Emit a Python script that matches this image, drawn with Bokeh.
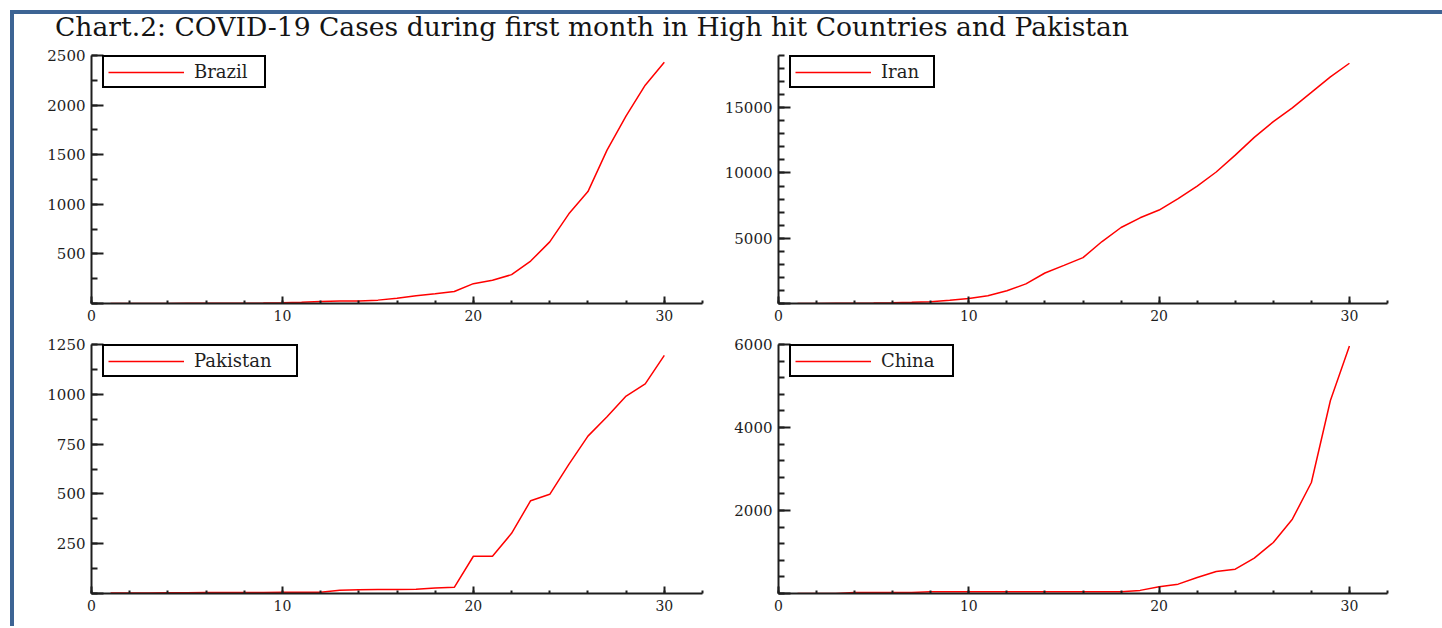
from bokeh.plotting import figure
from bokeh.layouts import column, row
from bokeh.models import Div, Spacer, Range1d, SingleIntervalTicker
from bokeh.embed import file_html
from bokeh.resources import INLINE

# ---------------- data ----------------
days = list(range(1, 31))

brazil = [1, 1, 1, 1, 2, 2, 2, 2, 4, 8, 13, 19, 25, 25, 34, 52, 77, 98, 121, 200,
          234, 291, 428, 621, 904, 1128, 1546, 1891, 2201, 2433]
iran = [2, 5, 18, 28, 43, 61, 95, 139, 245, 388, 593, 978, 1501, 2336, 2922, 3513,
        4747, 5823, 6566, 7161, 8042, 9000, 10075, 11364, 12729, 13938, 14991,
        16169, 17361, 18407]
pakistan = [2, 2, 2, 4, 4, 5, 5, 5, 5, 6, 6, 6, 16, 19, 20, 20, 21, 28, 31, 187,
            187, 302, 466, 498, 648, 790, 887, 991, 1052, 1195]
china = [0, 0, 0, 27, 27, 27, 27, 44, 44, 44, 44, 41, 41, 41, 41, 41, 41, 45, 75,
         160, 225, 385, 530, 586, 851, 1229, 1790, 2674, 4650, 5966]

title_text = "Chart.2: COVID-19 Cases during first month in High hit Countries and Pakistan"
x_max = 32

BLUE = "#3D6494"
RED = "#FF0000"
INK = "#1E1E1E"
SERIF = "DejaVu Serif"


def panel(name, values, y_max, y_step, y_minor, w, h, bl, br, bt, bb, label_w):
    p = figure(width=w, height=h, x_range=Range1d(0, x_max), y_range=Range1d(0, y_max),
               output_backend="svg", toolbar_location=None,
               min_border_left=bl, min_border_right=br,
               min_border_top=bt, min_border_bottom=bb, margin=0)
    p.line(days, values, line_color=RED, line_width=1.5, legend_label=name)
    p.xgrid.visible = False
    p.ygrid.visible = False
    p.outline_line_color = None
    p.background_fill_color = "white"
    p.border_fill_color = "white"

    p.xaxis.ticker = SingleIntervalTicker(interval=10, num_minor_ticks=5)
    p.yaxis.ticker = SingleIntervalTicker(interval=y_step, num_minor_ticks=y_minor)
    p.yaxis.major_label_overrides = {0: ""}

    for ax in (p.xaxis[0], p.yaxis[0]):
        ax.axis_line_color = INK
        ax.axis_line_width = 2
        ax.major_tick_line_color = INK
        ax.minor_tick_line_color = INK
        ax.major_tick_line_width = 2
        ax.minor_tick_line_width = 2
        ax.major_tick_out = 0
        ax.minor_tick_out = 0
        ax.major_label_text_font = SERIF
        ax.major_label_text_color = INK
    p.yaxis.major_tick_in = 12
    p.yaxis.minor_tick_in = 6
    p.xaxis.major_tick_in = 7
    p.xaxis.minor_tick_in = 3
    p.yaxis.major_label_text_font_size = "15px"
    p.xaxis.major_label_text_font_size = "14px"
    p.yaxis.major_label_standoff = 6
    p.xaxis.major_label_standoff = 6

    frame_h = h - bt - bb
    lg = p.legend[0]
    lg.location = (11, frame_h - 33)
    lg.border_line_color = "black"
    lg.border_line_width = 2
    lg.border_line_alpha = 1
    lg.background_fill_color = "white"
    lg.background_fill_alpha = 1
    lg.padding = 4
    lg.margin = 0
    lg.glyph_width = 76
    lg.glyph_height = 20
    lg.label_height = 20
    lg.label_width = label_w
    lg.label_standoff = 10
    lg.label_text_font = SERIF
    lg.label_text_font_size = "18px"
    lg.label_text_color = INK
    return p


p1 = panel("Brazil", brazil, 2500, 500, 2, 700, 286, 77, 12, 11, 27, 66)
p2 = panel("Iran", iran, 19000, 5000, 5, 720, 286, 64, 47, 11, 27, 48)
p3 = panel("Pakistan", pakistan, 1250, 250, 2, 700, 291, 77, 12, 14, 28, 98)
p4 = panel("China", china, 6000, 2000, 5, 720, 291, 64, 47, 14, 28, 67)

title = Div(text=('<div style="padding-left:41px; font-family:\'DejaVu Serif\'; '
                  'font-size:26.6px; line-height:26px; color:#141414; white-space:nowrap;">'
                  + title_text + '</div>'),
            width=1420, height=30, margin=0)

top_bar = Div(text="", width=1428, height=4, margin=0,
              styles={"background-color": BLUE})
left_bar = Div(text="", width=4, height=616, margin=0,
               styles={"background-color": BLUE})

content = column(top_bar, title, row(p1, p2, margin=0), row(p3, p4, margin=0), margin=0)
page = column(Spacer(height=10, width=10, margin=0),
              row(Spacer(width=10, height=10, margin=0), left_bar, content, margin=0),
              margin=0)

open("out.html", "w").write(file_html(page, INLINE, title="COVID-19 Cases"))
